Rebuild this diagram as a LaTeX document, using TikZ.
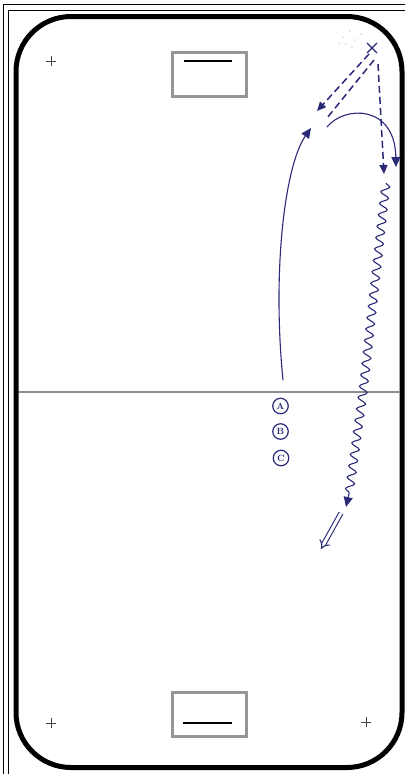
\documentclass[tikz,border=0pt]{standalone}
\usetikzlibrary{arrows.meta,decorations.pathmorphing}
\definecolor{ink}{RGB}{42,42,120}
\definecolor{boxgray}{RGB}{150,150,150}
\definecolor{linegray}{RGB}{140,140,140}
\begin{document}
\begin{tikzpicture}[x=1pt,y=-1pt,
  frameline/.style={black,line width=0.9pt},
  rinkline/.style={black,line width=5pt,rounded corners=55pt},
  goalbox/.style={draw=boxgray,line width=2.8pt},
  goalline/.style={black,line width=1.6pt},
  faceoff/.style={black!75,line width=0.8pt},
  skate/.style={ink,line width=1.1pt,-{Triangle[length=10pt,width=9pt]}},
  pass/.style={ink,line width=1.5pt,dash pattern=on 7pt off 4pt},
  puck/.style={ink,line width=1.1pt,decorate,decoration={snake,segment length=11.5pt,amplitude=4.2pt}},
  shot/.style={ink,line width=1.1pt,double=white,double distance=3pt,-{Implies}},
  player/.style={draw=ink,text=ink,circle,line width=1.2pt,inner sep=0.4pt,minimum size=15.5pt,font=\small\bfseries}
]
\useasboundingbox (0,0) rectangle (405,774);
\fill[white] (0,0) rectangle (405,774);
% outer frame
\draw[frameline] (3.5,774) -- (3.5,4.5) -- (405,4.5);
\draw[frameline] (8.5,774) -- (8.5,10) -- (405,10);
% rink
\draw[rinkline] (16,16.5) rectangle (402,767.5);
% center line
\draw[linegray,line width=2.5pt] (18.5,392) -- (399.5,392);
% goal boxes
\node[goalbox,minimum width=74pt,minimum height=44pt,inner sep=0pt] (gtop) at (209.5,74.5) {};
\draw[goalline] (184,61) -- (232,61);
\node[goalbox,minimum width=74pt,minimum height=44pt,inner sep=0pt] (gbot) at (209.5,714.5) {};
\draw[goalline] (183,723) -- (232,723);
% faceoff marks
\foreach \p in {(51,61),(51,723),(366,722)}{
  \draw[faceoff] \p ++(-5,0) -- ++(10,0);
  \draw[faceoff] \p ++(0,-5) -- ++(0,10);
}
% players
\node[player] (pa) at (280.5,406) {A};
\node[player] (pb) at (280.5,431.5) {B};
\node[player] (pc) at (281,458) {C};
% coordinates
\coordinate (start) at (283,380);
\coordinate (recv) at (311,128);
\coordinate (xmark) at (372,48);
\coordinate (passA1) at (369,54);
\coordinate (passA2) at (317,111);
\coordinate (passB1) at (374,60);
\coordinate (passB2) at (327,118);
\coordinate (vtop) at (378,64);
\coordinate (vbot) at (384,174);
\coordinate (arcS) at (327,127);
\coordinate (arcE) at (396,167);
\coordinate (w0) at (386,183);
\coordinate (w1) at (363,392);
\coordinate (w2) at (349,494);
\coordinate (wtip) at (346,507);
\coordinate (shotS) at (341,513);
\coordinate (shotE) at (321,549);
% scribble near the corner
\foreach \q in {(336,32),(343,37),(350,31),(355,40),(346,44),(361,34),(339,43),(352,47)}{
  \fill[ink!45] \q circle (0.7pt);
}
% X mark
\draw[ink,line width=1.3pt] (xmark) ++(-5,-5) -- ++(10,10);
\draw[ink,line width=1.3pt] (xmark) ++(5,-5) -- ++(-10,10);
% long skate up the ice
\draw[skate] (start) .. controls (272,270) and (285,165) .. (recv);
% double dashed pass
\draw[pass,-{Triangle[length=9pt,width=8pt]}] (passA1) -- (passA2);
\draw[pass] (passB1) -- (passB2);
% vertical dashed pass
\draw[pass,-{Triangle[length=9pt,width=8pt]}] (vtop) -- (vbot);
% solid arc
\draw[skate] (arcS) .. controls (345,105) and (395,105) .. (arcE);
% skating with puck
\draw[puck] (w0) -- (w1) -- (w2);
\draw[skate] (w2) -- (wtip);
% shot
\draw[shot] (shotS) -- (shotE);
\end{tikzpicture}
\end{document}
